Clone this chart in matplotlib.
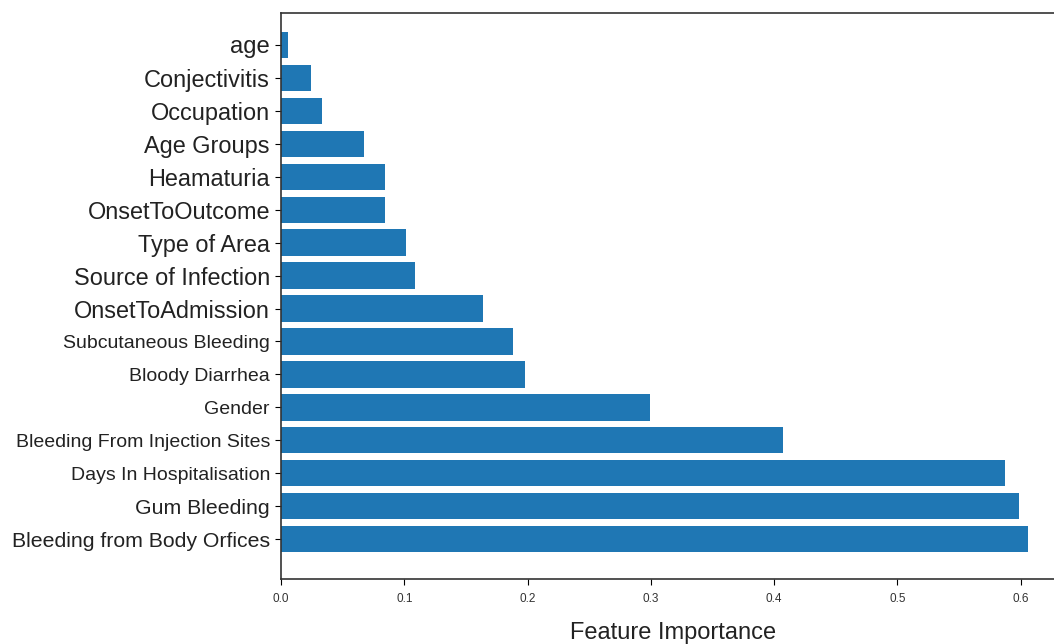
import numpy as np
import matplotlib
matplotlib.use("Agg")
import matplotlib.pyplot as plt

# features from top to bottom, as they appear in the chart
features = ["age", "Conjectivitis", "Occupation", "Age Groups", "Heamaturia",
	"OnsetToOutcome", "Type of Area", "Source of Infection", "OnsetToAdmission",
	"Subcutaneous Bleeding", "Bloody Diarrhea", "Gender",
	"Bleeding From Injection Sites", "Days In Hospitalisation",
	"Gum Bleeding", "Bleeding from Body Orfices"]

importance = [0.006, 0.024, 0.033, 0.067, 0.084, 0.084, 0.101, 0.109, 0.164,
	0.188, 0.198, 0.299, 0.407, 0.587, 0.599, 0.606]

# the label sizes are not uniform in the original
label_sizes = [17.2, 16.9, 16.9, 16.9, 16.9, 16.9, 16.9, 16.9, 16.9,
	14, 14, 14, 14, 14, 15.3, 15.3]

plt.rcParams["font.family"] = ["Liberation Sans", "DejaVu Sans"]

W, H = 1054, 644
fig = plt.figure(figsize=(W / 100, H / 100), dpi=100)

left, right = 281, 1065
top, bottom = 13, 579
ax = fig.add_axes([left / W, (H - bottom) / H, (right - left) / W, (bottom - top) / H])

n = len(features)
ypos = np.arange(n)[::-1]  # first feature on top

ax.barh(ypos, importance, height=0.8, color="#1f77b4")

ax.set_xlim(0, 0.636)
ax.set_ylim(-1.21, 15.97)

ax.set_yticks(ypos)
ax.set_yticklabels(features)
for lbl, sz in zip(ax.get_yticklabels(), label_sizes):
	lbl.set_fontsize(sz)
	lbl.set_color("#222222")

ax.set_xticks([0.0, 0.1, 0.2, 0.3, 0.4, 0.5, 0.6])
ax.set_xticklabels(["0.0", "0.1", "0.2", "0.3", "0.4", "0.5", "0.6"])
ax.tick_params(axis="x", labelsize=8.5, labelcolor="#333333", length=4, pad=6)
ax.tick_params(axis="y", length=4, pad=4)

ax.set_xlabel("Feature Importance", fontsize=17, color="#222222", labelpad=12)

for s in ["top", "left", "bottom", "right"]:
	ax.spines[s].set_color("#333333")
	ax.spines[s].set_linewidth(1.2)

fig.savefig("out.png", dpi=100)
